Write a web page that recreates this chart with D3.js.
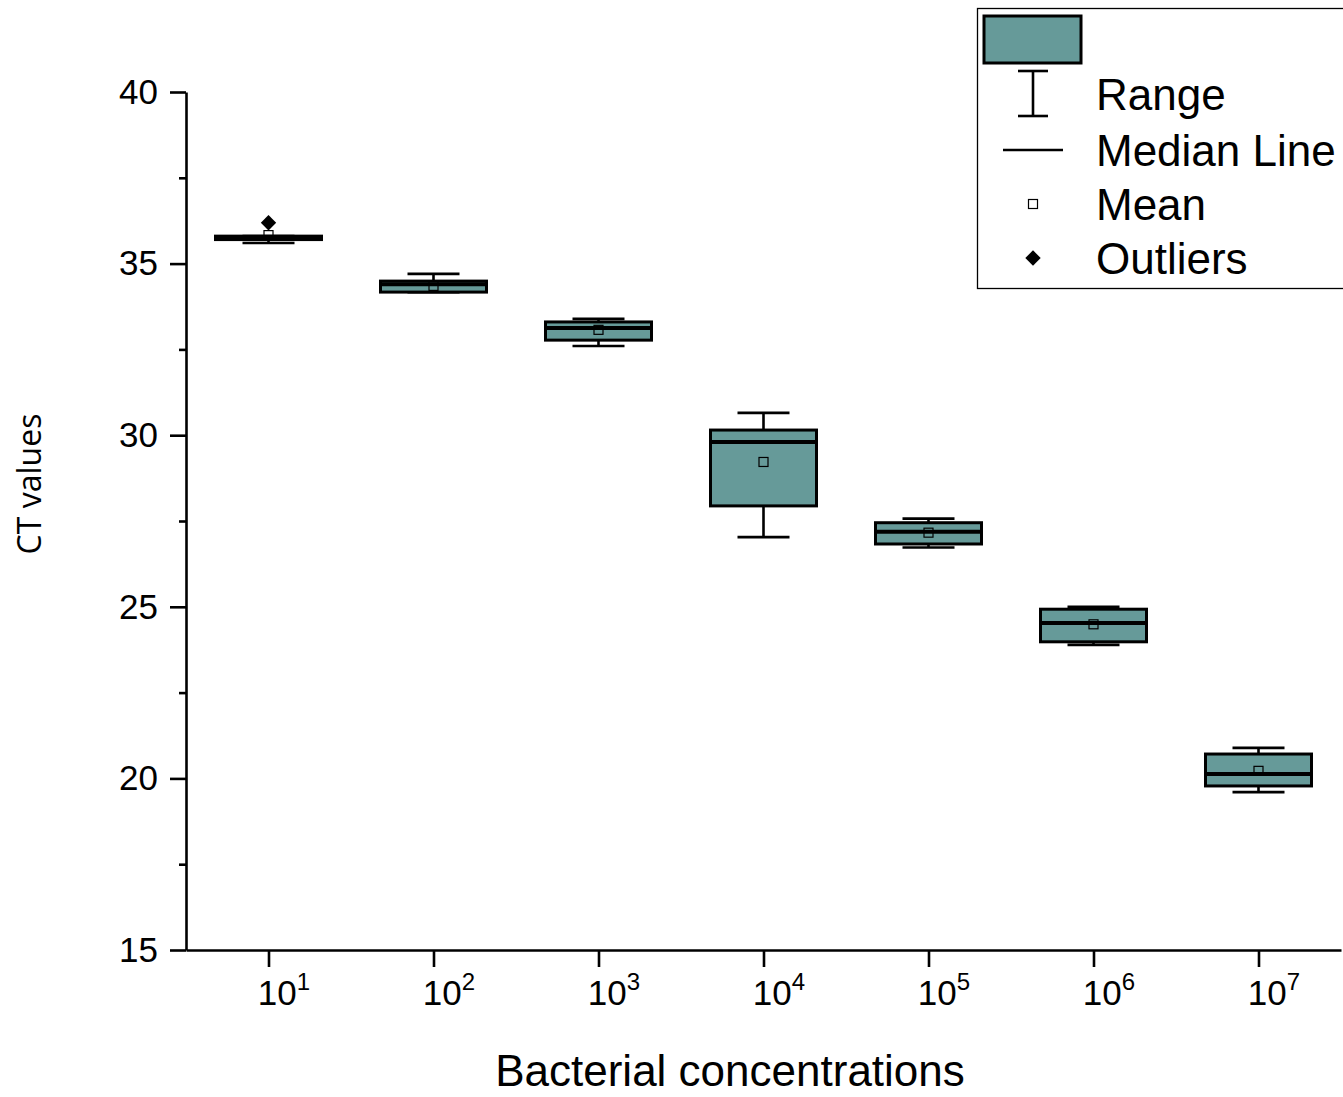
<!DOCTYPE html>
<html>
<head>
<meta charset="utf-8">
<script src="https://cdn.jsdelivr.net/npm/d3@7"></script>
<style>
  body { margin: 0; background: #fff; }
  svg { display: block; }
  text { font-family: "Liberation Sans", Arial, sans-serif; fill: #000; }
</style>
</head>
<body>
<svg id="chart" width="1343" height="1097"></svg>
<script>
// Box statistics (CT values per dilution)
const exponents  = [1, 2, 3, 4, 5, 6, 7];
const whiskerLow = [35.60, 34.17, 32.60, 27.03, 26.73, 23.89, 19.60];
const q1         = [35.70, 34.17, 32.77, 27.94, 26.83, 23.98, 19.78];
const medians    = [35.76, 34.40, 33.12, 29.80, 27.19, 24.53, 20.13];
const q3         = [35.80, 34.49, 33.30, 30.15, 27.45, 24.93, 20.71];
const whiskerHigh= [35.80, 34.70, 33.39, 30.65, 27.57, 25.00, 20.89];
const means      = [35.83, 34.35, 33.07, 29.22, 27.16, 24.49, 20.22];
const outliers   = [[1, 36.19]];

const yTicks = [15, 20, 25, 30, 35, 40];
const legendLabels = ["Range", "Median Line", "Mean", "Outliers"];

const FILL = "#669a99";

const svg = d3.select("#chart");
const x = d3.scaleLinear().domain([0.5, 7.5]).range([186, 1341]);
const y = d3.scaleLinear().domain([15, 40]).range([950, 92]);

// ---- axes ----
const yAxis = svg.append("g").attr("transform", "translate(186,0)")
  .call(d3.axisLeft(y).tickValues(yTicks).tickSize(16).tickSizeOuter(0).tickPadding(12));
svg.append("g").attr("transform", "translate(186,0)")
  .call(d3.axisLeft(y).tickValues(d3.range(17.5, 40, 5)).tickSize(7).tickFormat(""))
  .select(".domain").remove();
yAxis.selectAll("text").style("font-size", "35px");

const xAxis = svg.append("g").attr("transform", "translate(0,950)")
  .call(d3.axisBottom(x).tickValues(exponents).tickSize(17).tickSizeOuter(0).tickPadding(12).tickFormat(""));
xAxis.selectAll(".tick").append("text")
  .attr("x", 15).attr("y", 55).attr("text-anchor", "middle").style("font-size", "35px")
  .each(function (d) {
    const t = d3.select(this);
    t.append("tspan").text("10");
    t.append("tspan").attr("dy", -15).style("font-size", "24px").text(d);
  });

svg.selectAll(".domain, .tick line").attr("stroke", "#000").attr("stroke-width", 2.6);

// axis titles
svg.append("text").attr("x", 730).attr("y", 1086).attr("text-anchor", "middle")
  .style("font-size", "44px").text("Bacterial concentrations");
svg.append("text").attr("transform", "translate(41,484) rotate(-90)").attr("text-anchor", "middle")
  .style("font-family", "'Open Sans', sans-serif").style("font-size", "32px").text("CT values");

// ---- boxes ----
const boxHalf = 53, capHalf = 26;
const g = svg.append("g");
exponents.forEach((e, i) => {
  const cx = x(e);
  const bx = g.append("g");
  bx.append("line").attr("x1", cx).attr("x2", cx).attr("y1", y(whiskerHigh[i])).attr("y2", y(whiskerLow[i]))
    .attr("stroke", "#000").attr("stroke-width", 2.6);
  [whiskerLow[i], whiskerHigh[i]].forEach(v => {
    bx.append("line").attr("x1", cx - capHalf).attr("x2", cx + capHalf).attr("y1", y(v)).attr("y2", y(v))
      .attr("stroke", "#000").attr("stroke-width", 2.6);
  });
  bx.append("rect").attr("x", cx - boxHalf).attr("width", boxHalf * 2)
    .attr("y", y(q3[i])).attr("height", Math.max(0, y(q1[i]) - y(q3[i])))
    .attr("fill", FILL).attr("stroke", "#000").attr("stroke-width", 3);
  bx.append("line").attr("x1", cx - boxHalf).attr("x2", cx + boxHalf).attr("y1", y(medians[i])).attr("y2", y(medians[i]))
    .attr("stroke", "#000").attr("stroke-width", 4);
  bx.append("rect").attr("x", cx - 4.5).attr("y", y(means[i]) - 4.5).attr("width", 9).attr("height", 9)
    .attr("fill", "none").attr("stroke", "#000").attr("stroke-width", 1.2);
});
g.selectAll(".outlier").data(outliers).join("path").attr("class", "outlier")
  .attr("transform", d => `translate(${x(d[0])},${y(d[1])})`)
  .attr("d", d3.symbol(d3.symbolDiamond2, 150)).attr("fill", "#000");

// ---- legend ----
const lg = svg.append("g");
lg.append("rect").attr("x", 977.5).attr("y", 8.5).attr("width", 380).attr("height", 280)
  .attr("fill", "#fff").attr("stroke", "#000").attr("stroke-width", 1.3);
lg.append("rect").attr("x", 984).attr("y", 16).attr("width", 97).attr("height", 47)
  .attr("fill", FILL).attr("stroke", "#000").attr("stroke-width", 3);
const lx = 1033, rowY = [94, 150, 204, 258];
lg.append("line").attr("x1", lx).attr("x2", lx).attr("y1", 71).attr("y2", 116).attr("stroke", "#000").attr("stroke-width", 2.6);
[71, 116].forEach(v => lg.append("line").attr("x1", lx - 15).attr("x2", lx + 15).attr("y1", v).attr("y2", v)
  .attr("stroke", "#000").attr("stroke-width", 2.6));
lg.append("line").attr("x1", lx - 30).attr("x2", lx + 30).attr("y1", rowY[1]).attr("y2", rowY[1])
  .attr("stroke", "#000").attr("stroke-width", 2.6);
lg.append("rect").attr("x", lx - 4.5).attr("y", rowY[2] - 4.5).attr("width", 9).attr("height", 9)
  .attr("fill", "none").attr("stroke", "#000").attr("stroke-width", 1.2);
lg.append("path").attr("transform", `translate(${lx},${rowY[3]})`)
  .attr("d", d3.symbol(d3.symbolDiamond2, 150)).attr("fill", "#000");
lg.selectAll(".lt").data(legendLabels).join("text").attr("class", "lt")
  .attr("x", 1096).attr("y", (d, i) => rowY[i] + 16).style("font-size", "44px").text(d => d);
</script>
</body>
</html>
